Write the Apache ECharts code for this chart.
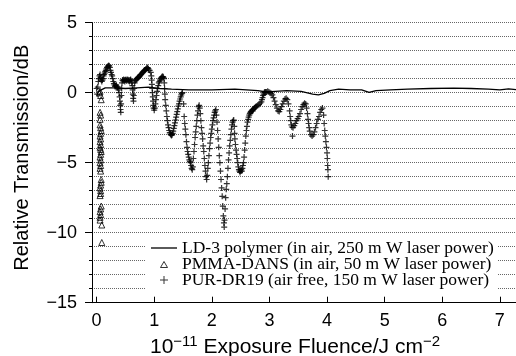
<!DOCTYPE html>
<html><head><meta charset="utf-8">
<script src="https://cdn.jsdelivr.net/npm/echarts@6/dist/echarts.min.js"></script>
<style>html,body{margin:0;padding:0;background:#fff}#c{width:516px;height:356px}</style>
</head><body><div id="c"></div>
<script>
const xTicks = [0, 1, 2, 3, 4, 5, 6, 7];
const seriesNames = [
  'LD-3 polymer (in air, 250 m W laser power)',
  'PMMA-DANS (in air, 50 m W laser power)',
  'PUR-DR19 (air free, 150 m W laser power)'
];
const ld3Points = [
  [0.03,0.05],[0.08,0.2],[0.15,0.35],[0.3,0.35],[0.5,0.3],[0.7,0.35],[0.9,0.4],[1.1,0.3],
  [1.3,0.25],[1.6,0.2],[2.0,0.2],[2.4,0.25],[2.6,0.2],[2.8,0.15],[2.95,0.05],[3.1,0.1],
  [3.3,0.15],[3.55,0.1],[3.75,-0.1],[3.85,-0.15],[3.95,-0.05],[4.05,0.15],[4.2,0.25],
  [4.4,0.2],[4.6,0.2],[4.73,0.02],[4.85,0.15],[5.1,0.2],[5.4,0.25],[5.8,0.3],[6.2,0.32],
  [6.5,0.3],[6.8,0.25],[7.0,0.2],[7.15,0.28],[7.28,0.22]
];
const pmmaPoints = [
  [0.05,0.0],[0.06,0.1],[0.07,-0.2],[0.08,-0.5],[0.06,-1.4],[0.07,-1.6],[0.06,-1.9],[0.06,-2.3],
  [0.07,-2.5],[0.08,-2.7],[0.07,-2.9],[0.06,-3.1],[0.07,-3.3],[0.06,-3.5],[0.07,-3.7],[0.06,-3.9],
  [0.07,-4.05],[0.08,-4.2],[0.07,-4.4],[0.06,-4.6],[0.07,-4.8],[0.06,-5.0],[0.07,-5.2],[0.06,-5.4],
  [0.07,-5.6],[0.08,-6.2],[0.08,-6.4],[0.07,-6.6],[0.06,-6.8],[0.07,-7.0],[0.07,-7.2],[0.06,-7.35],
  [0.08,-8.1],[0.07,-8.3],[0.06,-8.5],[0.07,-8.7],[0.06,-8.9],[0.06,-9.1],[0.09,-9.45],[0.09,-10.7]
];
const purPoints = [
  [0.00,0.3],[0.01,-0.1],[0.02,0.4],[0.03,0.8],[0.04,1.0],[0.05,1.2],[0.06,1.3],[0.07,1.1],[0.08,0.9],
  [0.09,0.8],[0.10,0.9],[0.11,1.0],[0.12,1.2],[0.13,1.3],[0.14,1.4],[0.15,1.5],[0.16,1.6],[0.17,1.7],
  [0.18,1.8],[0.19,1.85],[0.20,1.9],[0.21,1.95],[0.22,1.9],[0.23,1.8],[0.24,1.6],[0.25,1.45],[0.26,1.3],
  [0.27,1.2],[0.28,1.0],[0.29,0.8],[0.30,0.65],[0.31,0.55],[0.32,0.45],[0.33,0.5],[0.34,0.55],[0.35,0.45],
  [0.36,0.35],[0.37,0.4],[0.38,0.2],[0.39,0.0],[0.40,-0.3],[0.405,-0.6],[0.41,-0.9],[0.415,-1.2],
  [0.42,-1.4],[0.425,-0.8],[0.43,-0.2],[0.435,0.3],[0.44,0.7],
  [0.45,0.9],[0.46,0.85],[0.47,0.95],[0.48,0.9],[0.49,0.8],[0.50,0.9],[0.51,0.95],[0.52,0.85],[0.53,0.9],
  [0.54,0.95],[0.55,0.85],[0.56,0.9],[0.57,0.8],[0.58,0.9],[0.59,0.95],[0.60,0.85],[0.61,0.7],[0.62,0.5],
  [0.625,0.2],[0.63,-0.1],[0.635,-0.4],[0.64,-0.6],[0.645,-0.2],[0.65,0.3],[0.66,0.7],
  [0.67,0.85],[0.68,0.9],[0.69,0.95],[0.70,1.0],[0.71,1.05],[0.72,1.1],[0.73,1.1],[0.74,1.15],[0.75,1.2],
  [0.76,1.25],[0.77,1.3],[0.78,1.35],[0.79,1.4],[0.80,1.45],[0.81,1.5],[0.82,1.55],[0.83,1.6],[0.84,1.6],
  [0.85,1.65],[0.86,1.7],[0.87,1.75],[0.88,1.8],[0.89,1.75],[0.90,1.7],[0.92,1.6],[0.94,1.45],[0.95,1.2],
  [0.955,0.9],[0.96,0.6],[0.965,0.3],[0.97,0.0],[0.975,-0.3],[0.98,-0.6],[0.985,-0.9],[0.99,-1.1],
  [1.00,-1.25],[1.01,-1.1],[1.02,-0.8],[1.03,-0.5],[1.04,-0.2],[1.05,0.1],[1.06,0.3],[1.07,0.5],[1.08,0.7],
  [1.09,0.8],[1.10,0.9],[1.11,1.0],[1.12,1.05],[1.13,1.1],[1.14,1.15],[1.15,1.15],[1.16,1.1],[1.17,1.0],
  [1.175,0.7],[1.18,0.3],[1.185,-0.1],[1.19,-0.5],
  [1.20,-0.9],[1.21,-1.3],[1.22,-1.7],[1.23,-2.0],[1.24,-2.3],[1.25,-2.5],[1.26,-2.7],[1.27,-2.85],
  [1.28,-2.95],[1.29,-3.0],[1.30,-3.05],[1.31,-3.0],[1.32,-2.9],[1.33,-2.75],[1.34,-2.55],[1.35,-2.35],
  [1.36,-2.15],[1.37,-1.95],[1.38,-1.75],[1.39,-1.55],[1.40,-1.35],[1.41,-1.15],[1.42,-0.95],[1.43,-0.8],
  [1.44,-0.6],[1.45,-0.45],[1.46,-0.3],[1.47,-0.15],[1.48,-0.05],[1.49,0.0],
  [1.51,-0.8],[1.52,-1.7],[1.53,-2.2],[1.54,-2.6],[1.55,-3.0],[1.56,-3.5],[1.57,-3.9],[1.58,-4.2],
  [1.59,-4.4],[1.60,-4.6],[1.61,-4.8],[1.62,-4.9],[1.63,-5.0],[1.64,-5.2],[1.65,-5.4],[1.66,-5.5],
  [1.67,-5.3],[1.68,-4.7],[1.69,-4.2],[1.70,-3.7],[1.71,-3.2],[1.72,-2.8],[1.73,-2.4],[1.74,-2.0],
  [1.75,-1.6],[1.76,-1.3],[1.77,-1.0],[1.78,-0.9],
  [1.79,-1.1],[1.80,-1.5],[1.81,-2.0],[1.82,-2.5],[1.83,-2.9],[1.84,-3.3],[1.85,-3.8],[1.86,-4.2],
  [1.87,-4.7],[1.88,-5.2],[1.89,-5.6],[1.90,-6.0],[1.91,-6.2],[1.92,-5.9],[1.93,-5.4],[1.94,-5.0],
  [1.95,-4.5],[1.96,-4.0],[1.97,-3.6],[1.98,-3.2],[1.99,-2.9],[2.00,-2.6],[2.01,-2.3],[2.02,-2.0],
  [2.03,-1.8],[2.04,-1.6],[2.05,-1.4],[2.06,-1.3],[2.07,-1.2],
  [2.08,-1.6],[2.09,-2.1],[2.10,-2.7],[2.11,-3.3],[2.12,-3.9],[2.13,-4.5],[2.14,-5.0],[2.15,-5.6],
  [2.16,-6.2],[2.17,-6.8],[2.18,-7.4],[2.19,-8.1],[2.20,-8.8],[2.21,-9.3],[2.215,-9.6],[2.22,-9.1],
  [2.23,-8.3],[2.24,-7.5],[2.25,-6.9],[2.26,-6.5],[2.27,-6.0],[2.28,-5.4],[2.29,-4.8],[2.30,-4.3],
  [2.31,-3.8],[2.32,-3.4],[2.33,-3.0],[2.34,-2.6],[2.35,-2.3],[2.36,-2.1],[2.37,-2.0],
  [2.38,-1.95],[2.39,-2.4],[2.395,-2.9],[2.40,-3.3],[2.41,-3.7],[2.42,-4.1],[2.43,-4.4],[2.44,-4.7],
  [2.45,-5.0],[2.46,-5.3],[2.47,-5.5],[2.48,-5.6],[2.49,-5.7],[2.50,-5.6],[2.51,-5.5],[2.52,-5.6],
  [2.53,-5.4],[2.54,-5.2],[2.55,-5.0],[2.56,-4.6],[2.57,-4.1],[2.58,-3.6],[2.59,-3.1],[2.60,-2.7],
  [2.61,-2.4],[2.62,-2.1],[2.63,-1.9],[2.64,-1.75],[2.65,-1.6],[2.66,-1.5],[2.67,-1.4],[2.68,-1.35],
  [2.69,-1.3],[2.70,-1.25],[2.71,-1.3],[2.72,-1.2],[2.73,-1.15],[2.74,-1.1],[2.75,-1.05],[2.76,-1.0],
  [2.78,-0.95],[2.80,-0.9],[2.82,-0.85],[2.84,-0.75],[2.86,-0.65],[2.87,-0.5],[2.88,-0.35],[2.89,-0.2],
  [2.90,-0.1],[2.91,0.0],[2.92,0.05],[2.93,0.05],
  [2.95,0.05],[2.97,0.1],[2.99,0.05],[3.01,0.0],[3.03,-0.05],[3.05,-0.15],[3.07,-0.35],[3.09,-0.6],
  [3.11,-0.85],[3.13,-1.1],[3.15,-1.3],[3.17,-1.35],[3.19,-1.2],[3.21,-1.0],[3.23,-0.8],[3.25,-0.6],
  [3.27,-0.45],[3.29,-0.4],[3.31,-0.5],[3.33,-0.8],[3.35,-1.3],[3.36,-1.7],[3.37,-2.0],[3.38,-2.3],
  [3.39,-2.45],[3.40,-3.1],[3.41,-2.5],[3.43,-2.35],[3.45,-2.2],[3.47,-2.0],[3.49,-1.85],[3.51,-1.7],
  [3.53,-1.5],[3.55,-1.2],[3.57,-1.0],[3.59,-0.85],[3.61,-0.75],[3.63,-0.8],[3.645,-1.1],[3.66,-1.5],
  [3.67,-1.9],[3.68,-2.2],[3.69,-2.5],[3.70,-2.75],[3.72,-3.0],[3.74,-3.1],[3.76,-3.0],[3.78,-2.8],
  [3.80,-2.5],[3.82,-2.2],[3.84,-1.9],[3.86,-1.7],[3.88,-1.4],[3.90,-1.2],[3.92,-1.1],[3.94,-1.6],
  [3.95,-2.2],[3.96,-2.7],[3.97,-3.1],[3.98,-3.5],[3.99,-3.9],[4.00,-4.3],[4.005,-4.7],[4.01,-5.2],
  [4.015,-5.5],[4.02,-6.0]
];

const plusPath = 'path://M0,2H5V3H0Z M2,0H3V5H2Z';
const lineIcon = 'path://M0,0H26V1.3H0Z';
const plusIcon = 'path://M0,0M14,14M3,6.5H11V7.5H3Z M6.5,3H7.5V11H6.5Z';
const triIcon = 'path://M0,0M14,14M3.5,10.5L7,4.5L10.5,10.5Z';
const sans = 'Liberation Sans';
const fmtY = v => v < 0 ? '\u2212' + (-v) : String(v);
const gridLine = { color: '#666', type: 'dotted', width: 1 };

const chart = echarts.init(document.getElementById('c'));
chart.setOption({
  animation: false,
  backgroundColor: '#fff',
  grid: { left: 92, right: 0, top: 22.7, bottom: 53.3, containLabel: false, outerBoundsMode: 'none' },
  xAxis: {
    type: 'value', min: -0.08, max: 7.28,
    axisLine: { show: true, onZero: false, lineStyle: { color: '#000', width: 1 } },
    axisTick: { show: true, inside: true, length: 6, customValues: xTicks, lineStyle: { color: '#000' } },
    axisLabel: { customValues: xTicks, margin: 9, color: '#000', fontFamily: sans, fontSize: 18 },
    splitLine: { show: false },
    name: '10{s|\u221211} Exposure Fluence/J cm{s|\u22122}',
    nameLocation: 'middle', nameGap: 12,
    nameTextStyle: { color: '#000', fontFamily: sans, fontSize: 21, padding: [0, 18, 0, 0],
      rich: { s: { fontFamily: sans, fontSize: 15, color: '#000', padding: [0, 0, 11, 0] } } }
  },
  yAxis: {
    type: 'value', min: -15, max: 5, interval: 5,
    axisLine: { show: true, onZero: false, lineStyle: { color: '#000', width: 1 } },
    axisTick: { show: true, length: 7, lineStyle: { color: '#000' } },
    minorTick: { show: true, splitNumber: 5, length: 3, lineStyle: { color: '#000' } },
    axisLabel: { formatter: fmtY, margin: 15, color: '#000', fontFamily: sans, fontSize: 18 },
    splitLine: { show: true, lineStyle: gridLine },
    minorSplitLine: { show: true, lineStyle: gridLine },
    name: 'Relative Transmission/dB', nameLocation: 'middle', nameGap: 60,
    nameTextStyle: { color: '#000', fontFamily: sans, fontSize: 20, padding: [0, 0, 0, 10] }
  },
  legend: {
    orient: 'vertical', left: 146, top: 238, itemGap: -2, itemWidth: 26, itemHeight: 14,
    padding: [1, 4, 1, 5], backgroundColor: '#fff', selectedMode: false,
    textStyle: { fontFamily: 'Liberation Serif', fontSize: 17.5, color: '#000', lineHeight: 16.5 },
    data: [
      { name: seriesNames[0], icon: lineIcon, itemStyle: { color: '#000', borderWidth: 0 } },
      { name: seriesNames[1], icon: triIcon, itemStyle: { color: 'rgba(0,0,0,0)', borderColor: '#000', borderWidth: 1 } },
      { name: seriesNames[2], icon: plusIcon, itemStyle: { color: '#000', borderWidth: 0 } }
    ]
  },
  series: [
    { name: seriesNames[0], type: 'line', data: ld3Points, symbol: 'none', showSymbol: false,
      color: '#000', lineStyle: { color: '#000', width: 1.3 }, z: 2 },
    { name: seriesNames[1], type: 'scatter', data: pmmaPoints, symbol: 'triangle', symbolSize: 6,
      itemStyle: { color: 'rgba(0,0,0,0)', borderColor: '#000', borderWidth: 1 }, z: 3 },
    { name: seriesNames[2], type: 'scatter', data: purPoints, symbol: plusPath, symbolSize: 6,
      itemStyle: { color: '#000' }, z: 4 }
  ]
});
</script></body></html>
